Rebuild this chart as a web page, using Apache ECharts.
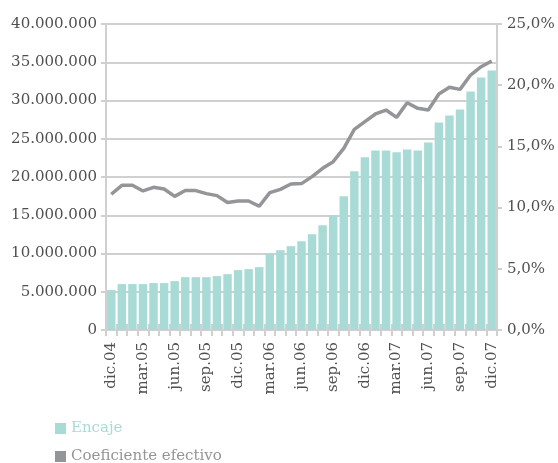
<!DOCTYPE html>
<html>
<head>
<meta charset="utf-8">
<script src="https://cdn.jsdelivr.net/npm/echarts@6/dist/echarts.min.js"></script>
<style>
html,body{margin:0;padding:0;background:#fff;}
#c{width:558px;height:463px;}
</style>
</head>
<body>
<div id="c"></div>
<script>
const months = ['dic.04','ene.05','feb.05','mar.05','abr.05','may.05','jun.05','jul.05','ago.05','sep.05','oct.05','nov.05','dic.05','ene.06','feb.06','mar.06','abr.06','may.06','jun.06','jul.06','ago.06','sep.06','oct.06','nov.06','dic.06','ene.07','feb.07','mar.07','abr.07','may.07','jun.07','jul.07','ago.07','sep.07','oct.07','nov.07','dic.07'];
const encaje = [5220000,6000000,6000000,6000000,6130000,6130000,6390000,6910000,6910000,6910000,7040000,7300000,7830000,7960000,8220000,10000000,10430000,10960000,11610000,12520000,13700000,15000000,17480000,20760000,22570000,23480000,23480000,23220000,23610000,23480000,24520000,27130000,28040000,28830000,31170000,33000000,33910000];
const coeficiente = [11.09,11.82,11.82,11.36,11.66,11.52,10.92,11.39,11.39,11.14,10.98,10.41,10.54,10.54,10.11,11.22,11.49,11.93,11.96,12.53,13.21,13.75,14.84,16.39,17.02,17.65,17.97,17.37,18.57,18.11,17.97,19.28,19.83,19.66,20.83,21.51,21.98];
const leftTicks = [0,5000000,10000000,15000000,20000000,25000000,30000000,35000000,40000000];
const rightTicks = [0,5,10,15,20,25];

const labelColor = '#4f5052';
const axisColor = '#d0d0d0';
const font = 'DejaVu Serif';
const barColor = '#a8dbd6';
const lineColor = '#939598';

function fmtThousands(v){
  return String(Math.round(v)).replace(/\B(?=(\d{3})+(?!\d))/g, '.');
}

const legendBase = {
  orient:'vertical',left:55,padding:0,itemWidth:11,itemHeight:11,icon:'rect',
  textStyle:{fontFamily:font,fontSize:15}
};

const chart = echarts.init(document.getElementById('c'), null, {renderer:'canvas'});
chart.setOption({
  animation:false,
  backgroundColor:'#fff',
  textStyle:{fontFamily:font},
  grid:{left:106,right:61,top:24,bottom:133,containLabel:false},
  legend:[
    Object.assign({}, legendBase, {top:421, data:[{name:'Encaje',textStyle:{color:barColor}}]}),
    Object.assign({}, legendBase, {top:449, data:[{name:'Coeficiente efectivo',textStyle:{color:lineColor}}]})
  ],
  xAxis:[{
    type:'category',data:months,boundaryGap:true,
    axisLine:{lineStyle:{color:axisColor,width:2}},
    axisTick:{show:true,interval:0,length:6,lineStyle:{color:axisColor,width:2}},
    axisLabel:{interval:2,rotate:90,margin:12,color:labelColor,fontFamily:font,fontSize:15},
    splitLine:{show:false}
  },{
    type:'category',data:months,boundaryGap:true,position:'bottom',
    axisLine:{show:false},
    axisTick:{show:true,inside:true,interval:0,length:6,lineStyle:{color:axisColor,width:2}},
    axisLabel:{show:false},splitLine:{show:false}
  }],
  yAxis:[{
    type:'value',min:leftTicks[0],max:leftTicks[leftTicks.length-1],interval:leftTicks[1]-leftTicks[0],
    axisLine:{show:true,lineStyle:{color:axisColor,width:2}},
    axisTick:{show:true,length:5,lineStyle:{color:axisColor,width:2}},
    axisLabel:{margin:9,color:labelColor,fontFamily:font,fontSize:15,formatter:fmtThousands},
    splitLine:{show:true,lineStyle:{color:axisColor,width:2}}
  },{
    type:'value',min:rightTicks[0],max:rightTicks[rightTicks.length-1],interval:rightTicks[1]-rightTicks[0],
    position:'right',
    axisLine:{show:true,lineStyle:{color:axisColor,width:2}},
    axisTick:{show:true,length:5,lineStyle:{color:axisColor,width:2}},
    axisLabel:{margin:10,color:labelColor,fontFamily:font,fontSize:15,formatter:v=>v.toFixed(1).replace('.',',')+'%'},
    splitLine:{show:false}
  }],
  series:[{
    name:'Encaje',type:'bar',data:encaje,xAxisIndex:0,yAxisIndex:0,
    barCategoryGap:'20%',itemStyle:{color:barColor}
  },{
    name:'Coeficiente efectivo',type:'line',data:coeficiente,xAxisIndex:0,yAxisIndex:1,
    symbol:'none',smooth:false,lineStyle:{color:lineColor,width:3.5},itemStyle:{color:lineColor}
  }]
});
</script>
</body>
</html>
